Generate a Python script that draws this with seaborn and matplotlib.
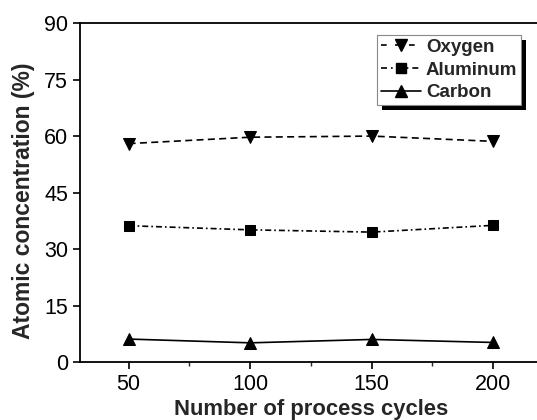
import matplotlib
matplotlib.use("Agg")
import matplotlib.pyplot as plt
from matplotlib.patches import Rectangle
from matplotlib.lines import Line2D
import seaborn as sns
import pandas as pd

# Atomic composition vs. number of process cycles
cycles = [50, 100, 150, 200]
oxygen = [58.0, 59.7, 60.0, 58.6]
aluminum = [36.2, 35.1, 34.5, 36.3]
carbon = [6.1, 5.1, 6.0, 5.2]

series_names = ["Oxygen", "Aluminum", "Carbon"]
x_ticks = [50, 100, 150, 200]
y_ticks = [0, 15, 30, 45, 60, 75, 90]

df = pd.concat([
    pd.DataFrame({"cycles": cycles, "conc": vals, "element": name})
    for name, vals in zip(series_names, [oxygen, aluminum, carbon])
], ignore_index=True)

sns.set_style("ticks")
plt.rcParams["font.family"] = ["Liberation Sans", "DejaVu Sans"]

fig = plt.figure(figsize=(5.37, 4.20), dpi=100)
ax = fig.add_axes([0.149, 0.138, 0.860, 0.807])

markers = {"Oxygen": "v", "Aluminum": "s", "Carbon": "^"}
dashes = {"Oxygen": (4.2, 2.6), "Aluminum": (3.6, 1.8, 1.0, 1.8), "Carbon": None}
legend_dashes = {"Oxygen": (3.4, 5.0), "Aluminum": (3.6, 2.4, 1.0, 2.4), "Carbon": None}
msize = {"Oxygen": 8.5, "Aluminum": 7, "Carbon": 8.5}

for name in series_names:
    sub = df[df["element"] == name]
    sns.lineplot(data=sub, x="cycles", y="conc", ax=ax, color="black",
                 linewidth=1.2, marker=markers[name], markersize=msize[name],
                 markeredgecolor="black", markerfacecolor="black",
                 legend=False)

for name, line in zip(series_names, ax.get_lines()):
    if dashes[name]:
        line.set_dashes(dashes[name])
    else:
        line.set_linestyle("-")

ax.set_xlim(30, 220)
ax.set_ylim(0, 90)
ax.set_xticks(x_ticks)
ax.set_xticks([75, 125, 175], minor=True)
ax.set_yticks(y_ticks)
ax.tick_params(axis="both", which="major", direction="out", length=5,
               width=1.2, labelsize=15.5, color="black", labelcolor="black")
ax.tick_params(axis="x", which="minor", direction="out", length=3, width=1.0)

for side in ["left", "bottom", "top"]:
    ax.spines[side].set_linewidth(1.3)
    ax.spines[side].set_color("black")
ax.spines["right"].set_visible(False)

ax.set_xlabel("Number of process cycles", fontsize=15.8, fontweight="bold", labelpad=3)
ax.set_ylabel("Atomic concentration (%)", fontsize=16.5, fontweight="bold")
ax.yaxis.set_label_coords(-0.097, 0.475)

# legend keys: one dash either side of the marker
handles = []
for name in series_names:
    h = Line2D([], [], color="black", linewidth=1.2, marker=markers[name],
               markersize=msize[name], markerfacecolor="black", markeredgecolor="black")
    if legend_dashes[name]:
        h.set_dashes(legend_dashes[name])
    handles.append(h)

leg = ax.legend(handles, series_names, loc="upper right",
                bbox_to_anchor=(0.955, 0.965), borderaxespad=0,
                frameon=True, fancybox=False,
                prop={"weight": "bold", "size": 13.5},
                handlelength=2.13, handletextpad=0.27, labelspacing=0.3,
                borderpad=0.2)
frame = leg.get_frame()
frame.set_edgecolor("#888888")
frame.set_linewidth(0.8)
frame.set_alpha(1.0)

# solid black drop shadow behind the legend box
fig.canvas.draw()
bb = leg.get_window_extent()
shadow = Rectangle((bb.x0 + 5, bb.y0 - 5), bb.width, bb.height,
                   transform=None, facecolor="black", edgecolor="none",
                   zorder=leg.get_zorder() - 0.5)
ax.add_artist(shadow)

fig.savefig("out.png", dpi=100)
